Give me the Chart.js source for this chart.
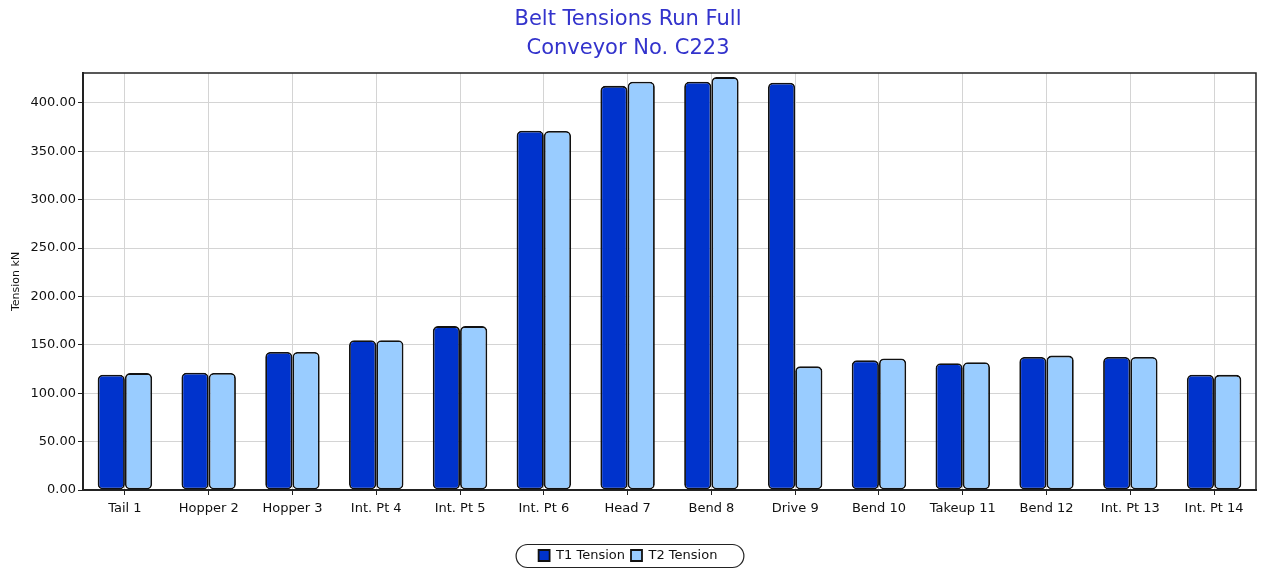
<!DOCTYPE html>
<html>
<head>
<meta charset="utf-8">
<script src="https://cdn.jsdelivr.net/npm/chart.js@4/dist/chart.umd.min.js"></script>
<style>
html,body{margin:0;padding:0;background:#fff;}
#wrap{position:relative;width:1263px;height:569px;}
</style>
</head>
<body>
<div id="wrap"><canvas id="c"></canvas></div>
<script>
const categories = ["Tail 1","Hopper 2","Hopper 3","Int. Pt 4","Int. Pt 5","Int. Pt 6","Head 7","Bend 8","Drive 9","Bend 10","Takeup 11","Bend 12","Int. Pt 13","Int. Pt 14"];
const t1Tension = [119.2,121.2,142.7,154.8,169.4,371.2,417.7,422.0,421.0,134.0,131.0,137.5,137.5,119.1];
const t2Tension = [120.8,121.0,142.7,154.8,169.4,371.0,422.0,426.7,127.8,136.0,132.0,138.9,137.5,119.0];
const yTicks = [0,50,100,150,200,250,300,350,400];
const titleLines = ["Belt Tensions Run Full","Conveyor No. C223"];
const yAxisTitle = "Tension kN";

const FONT = "'DejaVu Sans', Verdana, sans-serif";

const frame = {
  id: 'frame',
  afterDatasetsDraw(chart) {
    const {ctx, chartArea: a} = chart;
    ctx.save();
    ctx.strokeStyle = '#222';
    ctx.lineWidth = 1.5;
    ctx.beginPath();
    ctx.moveTo(a.left, a.top); ctx.lineTo(a.right, a.top); ctx.lineTo(a.right, a.bottom);
    ctx.stroke();
    ctx.restore();
  },
  afterDraw(chart) {
    const lg = chart.legend;
    if (!lg || !lg.legendHitBoxes || !lg.legendHitBoxes.length) return;
    const boxes = lg.legendHitBoxes;
    let x0 = Math.min(...boxes.map(b => b.left)) - 23;
    let x1 = Math.max(...boxes.map(b => b.left + b.width)) + 26;
    let y0 = Math.min(...boxes.map(b => b.top)) - 5;
    let y1 = Math.max(...boxes.map(b => b.top + b.height)) + 5;
    const ctx = chart.ctx;
    ctx.save();
    ctx.strokeStyle = '#222';
    ctx.lineWidth = 1.2;
    ctx.beginPath();
    ctx.roundRect(x0 + 0.5, y0 + 0.5, x1 - x0, y1 - y0, (y1 - y0) / 2);
    ctx.stroke();
    ctx.restore();
  }
};

new Chart(document.getElementById('c'), {
  type: 'bar',
  data: {
    labels: categories,
    datasets: [
      {label: 'T1 Tension', data: t1Tension, backgroundColor: '#0033cc', borderColor: '#111', borderWidth: 1.8, borderRadius: 5, borderSkipped: false},
      {label: 'T2 Tension', data: t2Tension, backgroundColor: '#99ccff', borderColor: '#111', borderWidth: 1.8, borderRadius: 5, borderSkipped: false}
    ]
  },
  options: {
    responsive: true,
    maintainAspectRatio: false,
    animation: false,
    layout: {padding: {left: 0, right: 7, top: 0, bottom: -3}},
    datasets: {bar: {barPercentage: 1.0, categoryPercentage: 0.65}},
    plugins: {
      title: {display: true, text: titleLines, color: '#3333cc', font: {family: FONT, size: 21, weight: 'normal', lineHeight: 1.38}, padding: {top: 5, bottom: 10}},
      legend: {position: 'bottom', labels: {font: {family: FONT, size: 13}, color: '#111', boxWidth: 11, boxHeight: 11, padding: 6}},
      tooltip: {enabled: false}
    },
    scales: {
      x: {
        grid: {offset: false, color: '#d4d4d4', lineWidth: 1, tickLength: 5, tickColor: '#222'},
        border: {color: '#222', width: 2},
        ticks: {font: {family: FONT, size: 13}, color: '#111', maxRotation: 0, padding: 6},
        afterFit(s) { s.height = 53; }
      },
      y: {
        min: 0, max: 431,
        afterBuildTicks(s) { s.ticks = yTicks.map(v => ({value: v})); },
        afterFit(s) { s.width = 83; },
        grid: {color: '#d4d4d4', lineWidth: 1, tickLength: 5, tickColor: '#222'},
        border: {color: '#222', width: 2},
        ticks: {font: {family: FONT, size: 13}, color: '#111', padding: 2, callback: v => Number(v).toFixed(2)},
        title: {display: true, text: yAxisTitle, font: {family: FONT, size: 11}, color: '#111', padding: {top: 10, bottom: 0}}
      }
    }
  },
  plugins: [frame]
});
</script>
</body>
</html>
